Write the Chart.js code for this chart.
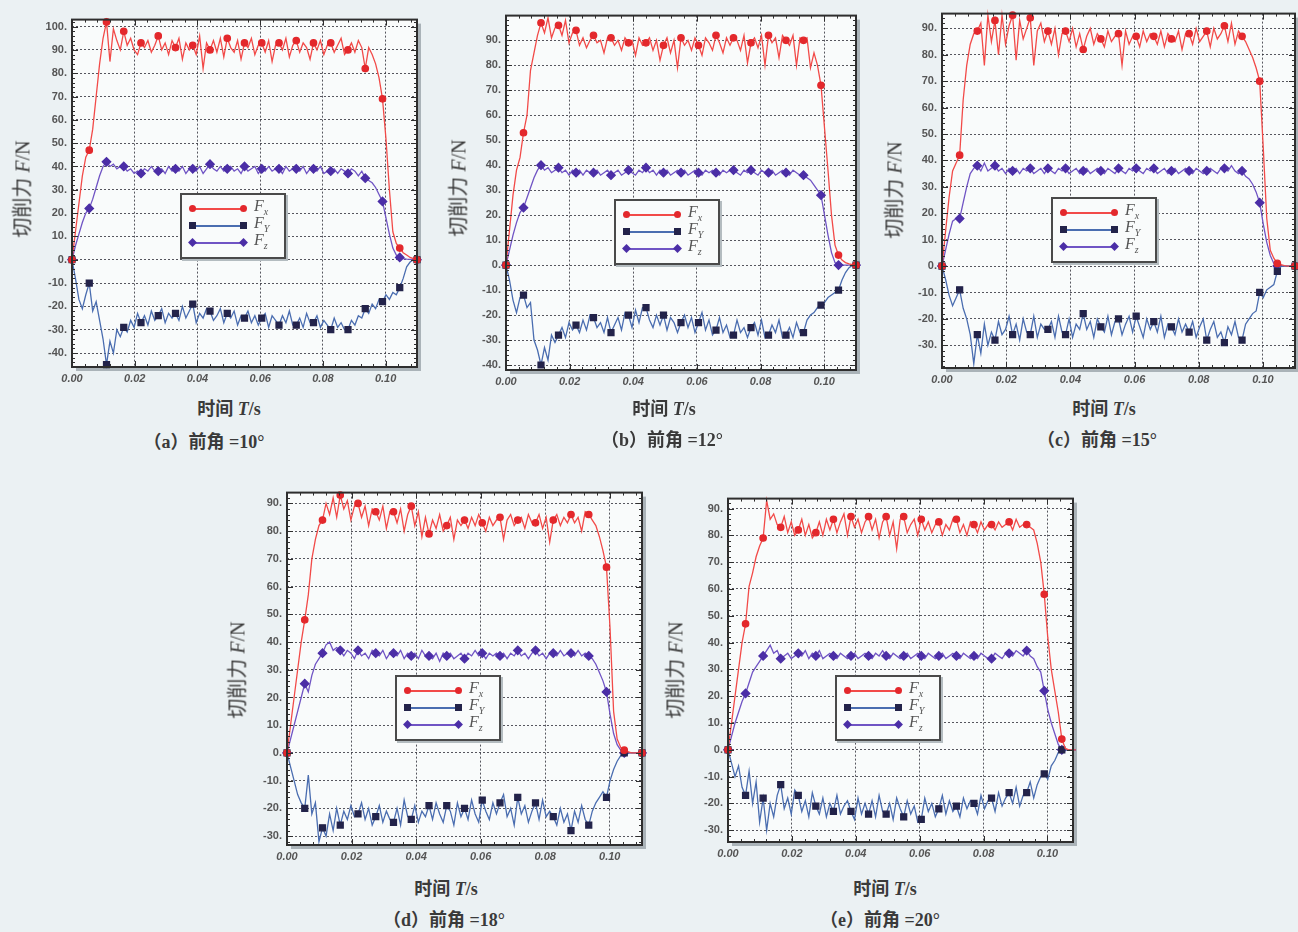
<!DOCTYPE html>
<html>
<head>
<meta charset="utf-8">
<script src="https://cdn.jsdelivr.net/npm/chart.js@4.4.1/dist/chart.umd.min.js"></script>
<style>
  body { margin:0; width:1298px; height:932px; background:#ebf1f3; position:relative; overflow:hidden;
         font-family:"Liberation Serif","Noto Sans CJK SC",serif; color:#3a3a3a; }
  .panel { position:absolute; }
  .txt { position:absolute; font-size:18px; font-weight:bold; white-space:nowrap; transform:translate(-50%,-50%); }
  .ytl { font-size:20px; font-weight:normal; transform:translate(-50%,-50%) rotate(-90deg); }
  .lg { position:absolute; width:102px; height:62px; border:2px solid #4a4a4a; background:#f9fbfb;
        box-shadow:2px 2px 0 #b4bcc0; }
  .row { position:absolute; left:10px; width:90px; height:16px; }
  .ln { position:absolute; left:0; top:7px; width:52px; height:1.5px; }
  .mk { position:absolute; top:4px; width:7px; height:7px; }
  .lab { position:absolute; left:62px; top:-4px; font-style:italic; font-size:16px; color:#555; }
  .lab sub { font-size:10px; }
</style>
</head>
<body>
<script>
// time axis, one sample every 0.0011 s (101 samples)
const timeS = Array.from({length: 101}, (_, i) => +(i * 0.0011).toFixed(4));
const seriesNames = ['Fx', 'FY', 'Fz'];

// (a) rake angle 10
const fxA = [
  0, 12, 24, 36, 44, 47, 56, 70, 84, 95,
  102, 85, 99, 94, 90, 98, 92, 95, 90, 88,
  93, 91, 94, 89, 92, 96, 90, 93, 88, 94,
  91, 95, 86, 93, 90, 92, 88, 96, 82, 93,
  90, 94, 89, 95, 87, 95, 91, 89, 94, 86,
  93, 91, 95, 88, 92, 93, 89, 94, 85, 92,
  93, 90, 95, 87, 92, 94, 89, 93, 91, 86,
  93, 90, 94, 88, 92, 93, 89, 92, 95, 88,
  90, 93, 89, 94, 91, 82, 91, 88, 84, 78,
  69, 52, 30, 12, 7, 5, 3, 2, 1, 0.5,
  0];
const fyA = [
  0, -8, -17, -21, -15, -10, -22, -18, -26, -34,
  -45, -35, -40, -30, -33, -29, -31, -26, -29, -23,
  -27, -24, -28, -22, -26, -24, -21, -27, -23, -25,
  -23, -26, -20, -25, -22, -19, -27, -23, -25, -21,
  -22, -26, -24, -21, -27, -23, -25, -22, -28, -24,
  -25, -22, -27, -24, -28, -25, -23, -29, -24, -26,
  -28, -24, -27, -22, -28, -28, -25, -29, -23, -27,
  -27, -24, -29, -26, -28, -30, -25, -29, -27, -30,
  -30, -26, -28, -24, -25, -21, -23, -19, -21, -17,
  -18, -15, -17, -14, -15, -12, -8, -3, -1, 0,
  0];
const fzA = [
  0, 6, 11, 16, 20, 22, 26, 31, 36, 40,
  42, 40, 41, 39, 40, 40, 38, 39, 37, 38,
  37, 39, 38, 40, 38, 38, 39, 37, 40, 38,
  39, 38, 40, 37, 39, 39, 38, 40, 37, 39,
  41, 39, 38, 40, 38, 39, 40, 38, 39, 37,
  40, 38, 39, 40, 37, 39, 38, 40, 38, 39,
  39, 37, 40, 38, 39, 39, 38, 40, 37, 39,
  39, 38, 40, 37, 38, 38, 39, 37, 39, 38,
  37, 39, 38, 36, 38, 35, 34, 33, 31, 28,
  25, 18, 11, 5, 2, 1, 0.5, 0.3, 0.2, 0.1,
  0];

// (b) rake angle 12
const fxB = [
  0, 14, 28, 38, 43, 53, 60, 78, 85, 92,
  97, 93, 99, 91, 95, 96, 92, 98, 89, 93,
  94, 88, 91, 87, 90, 92, 89, 90, 85, 91,
  91, 88, 90, 86, 91, 89, 90, 84, 91, 88,
  89, 91, 86, 90, 82, 88, 91, 85, 90, 79,
  91, 88, 90, 86, 91, 88, 84, 91, 89, 86,
  92, 89, 85, 91, 88, 91, 90, 86, 92, 81,
  89, 91, 87, 92, 80, 92, 89, 91, 83, 92,
  90, 88, 92, 80, 91, 90, 91, 79, 85, 80,
  72, 55, 38, 20, 8, 4, 2, 1, 0.5, 0.2,
  0];
const fyB = [
  0, -6, -14, -19, -13, -12, -17, -15, -30, -34,
  -40, -33, -38, -28, -31, -28, -25, -29, -23, -26,
  -24, -27, -22, -26, -20, -21, -25, -23, -27, -21,
  -27, -24, -21, -26, -19, -20, -25, -18, -23, -17,
  -17, -22, -25, -20, -24, -20, -26, -21, -23, -27,
  -23, -20, -25, -21, -27, -23, -19, -26, -22, -28,
  -26, -21, -27, -24, -29, -28, -22, -27, -25, -29,
  -25, -23, -28, -22, -29, -28, -24, -27, -22, -29,
  -28, -25, -29, -23, -27, -27, -22, -20, -19, -17,
  -16, -15, -13, -12, -11, -10, -6, -3, -1, 0,
  0];
const fzB = [
  0, 6, 12, 17, 21, 23, 27, 31, 35, 38,
  40, 38, 39, 37, 38, 39, 37, 38, 36, 38,
  37, 38, 36, 38, 37, 37, 38, 36, 37, 38,
  36, 37, 38, 36, 37, 38, 37, 36, 38, 37,
  39, 37, 38, 36, 38, 37, 38, 36, 37, 38,
  37, 38, 36, 37, 38, 37, 36, 38, 37, 38,
  37, 36, 38, 37, 38, 38, 37, 36, 38, 37,
  38, 37, 36, 38, 37, 37, 38, 36, 37, 38,
  37, 36, 38, 37, 36, 36, 35, 34, 32, 30,
  28, 20, 12, 5, 1, 0, 0, 0, 0, 0,
  0];

// (c) rake angle 15
const fxC = [
  0, 13, 26, 36, 39, 42, 63, 76, 84, 88,
  89, 92, 76, 95, 85, 93, 80, 95, 84, 91,
  95, 78, 93, 86, 90, 94, 76, 89, 92, 85,
  89, 84, 90, 80, 88, 89, 85, 90, 83, 88,
  82, 87, 90, 84, 88, 86, 83, 89, 85, 87,
  88, 76, 89, 84, 87, 87, 83, 89, 85, 88,
  87, 84, 89, 83, 88, 86, 85, 89, 82, 88,
  88, 84, 90, 85, 87, 89, 83, 90, 86, 88,
  91, 85, 92, 84, 89, 87, 85, 82, 79, 75,
  70, 45, 18, 6, 3, 1, 0.5, 0.2, 0, 0,
  0];
const fyC = [
  0, -5, -11, -15, -12, -9, -16, -20, -26, -37,
  -26, -33, -22, -30, -25, -28, -21, -26, -24, -19,
  -26, -22, -28, -20, -25, -26, -19, -27, -22, -24,
  -24, -21, -27, -19, -25, -26, -20, -27, -22, -24,
  -18, -24, -21, -27, -20, -23, -25, -19, -26, -21,
  -20, -26, -22, -19, -25, -19, -23, -27, -20, -24,
  -21, -25, -19, -27, -22, -23, -26, -20, -25, -22,
  -25, -21, -27, -23, -20, -28, -24, -21, -27, -25,
  -29, -23, -26, -21, -27, -28, -22, -20, -18, -17,
  -10, -12, -9, -8, -7, -2, 0, 0, 0, 0,
  0];
const fzC = [
  0, 6, 12, 17, 18, 18, 24, 30, 35, 37,
  38, 36, 39, 36, 37, 38, 36, 37, 35, 37,
  36, 37, 35, 37, 36, 37, 35, 36, 37, 35,
  37, 36, 35, 37, 36, 37, 35, 36, 37, 35,
  36, 37, 35, 36, 37, 36, 35, 37, 36, 35,
  37, 36, 35, 37, 36, 37, 36, 35, 37, 36,
  37, 35, 36, 37, 35, 36, 37, 35, 36, 37,
  36, 35, 37, 36, 35, 36, 37, 36, 35, 37,
  37, 36, 38, 36, 35, 36, 34, 33, 31, 28,
  24, 16, 9, 4, 1, 0, 0, 0, 0, 0,
  0];

// (d) rake angle 18
const fxD = [
  0, 10, 20, 30, 40, 48, 57, 70, 77, 82,
  84, 90, 86, 92, 85, 93, 88, 91, 84, 89,
  90, 85, 89, 82, 88, 87, 84, 89, 81, 87,
  87, 83, 88, 80, 86, 89, 82, 87, 78, 85,
  79, 84, 81, 86, 80, 82, 85, 77, 84, 82,
  84, 81, 85, 82, 86, 83, 80, 85, 82, 84,
  85, 77, 84, 86, 82, 84, 85, 81, 86, 83,
  83, 86, 81, 85, 76, 84, 86, 82, 85, 83,
  86, 83, 85, 80, 87, 86, 84, 82, 78, 73,
  67, 45, 15, 5, 2, 1, 0.5, 0, 0, 0,
  0];
const fyD = [
  0, -5, -10, -15, -18, -20, -8, -22, -18, -32,
  -27, -30, -22, -28, -20, -26, -21, -24, -19, -23,
  -22, -18, -24, -20, -26, -23, -19, -25, -21, -24,
  -25, -20, -26, -17, -23, -24, -19, -25, -21, -23,
  -19, -24, -18, -22, -25, -19, -21, -26, -18, -23,
  -20, -24, -17, -22, -25, -17, -21, -24, -18, -22,
  -18, -15, -23, -20, -26, -16, -22, -19, -25, -21,
  -18, -24, -17, -23, -21, -23, -26, -20, -25, -22,
  -28, -21, -25, -19, -24, -26, -21, -18, -16, -14,
  -16, -10, -6, -3, -1, 0, 0, 0, 0, 0,
  0];
const fzD = [
  0, 5, 10, 15, 20, 25, 22, 28, 32, 34,
  36, 39, 40, 37, 38, 37, 35, 37, 36, 34,
  37, 35, 36, 34, 37, 36, 35, 37, 34, 36,
  36, 35, 37, 34, 36, 35, 36, 34, 37, 35,
  35, 34, 36, 33, 36, 35, 36, 34, 35, 36,
  34, 36, 35, 37, 35, 36, 34, 36, 35, 36,
  35, 36, 34, 36, 35, 37, 35, 36, 34, 36,
  37, 35, 36, 34, 36, 36, 35, 37, 35, 36,
  36, 35, 37, 35, 36, 35, 34, 32, 29, 26,
  22, 14, 7, 3, 1, 0, 0, 0, 0, 0,
  0];

// (e) rake angle 20
const fxE = [
  0, 10, 20, 30, 40, 47, 61, 66, 72, 76,
  79, 93, 86, 88, 84, 83, 87, 81, 85, 80,
  82, 86, 80, 84, 79, 81, 85, 80, 86, 82,
  86, 81, 85, 88, 80, 87, 83, 86, 81, 85,
  87, 82, 86, 79, 85, 87, 80, 85, 75, 86,
  87, 81, 84, 86, 80, 86, 82, 85, 81, 84,
  85, 80, 84, 82, 86, 86, 81, 84, 80, 85,
  84, 81, 85, 82, 84, 84, 82, 85, 83, 84,
  85, 82, 86, 83, 84, 84, 83, 82, 77, 70,
  58, 42, 30, 22, 14, 4, 0.5, 0, 0, 0,
  0];
const fyE = [
  0, -5, -10, -6, -14, -17, -8, -20, -12, -27,
  -18, -30, -20, -25, -17, -13, -22, -18, -24, -15,
  -17, -23, -19, -25, -16, -21, -24, -18, -25, -20,
  -23, -17, -24, -21, -19, -23, -26, -18, -24, -20,
  -24, -19, -25, -17, -23, -24, -20, -26, -18, -22,
  -25, -19, -24, -21, -27, -26, -18, -23, -20, -25,
  -22, -17, -24, -19, -23, -21, -25, -18, -22, -19,
  -20, -24, -17, -22, -19, -18, -23, -16, -21, -18,
  -16, -20, -14, -21, -17, -16, -12, -18, -13, -10,
  -9, -11, -6, -4, -1, 0, 0, 0, 0, 0,
  0];
const fzE = [
  0, 5, 10, 14, 18, 21, 25, 29, 31, 33,
  35, 37, 39, 36, 37, 34, 35, 36, 34, 35,
  36, 35, 37, 34, 36, 35, 37, 34, 35, 36,
  35, 34, 36, 35, 34, 35, 36, 34, 35, 36,
  35, 34, 36, 35, 37, 35, 34, 36, 35, 34,
  35, 36, 34, 35, 36, 35, 34, 36, 35, 34,
  35, 36, 34, 35, 36, 35, 34, 36, 35, 34,
  35, 34, 36, 35, 34, 34, 36, 35, 34, 36,
  36, 35, 37, 36, 35, 37, 35, 34, 31, 29,
  22, 15, 10, 6, 2, 0, 0, 0, 0, 0,
  0];

const lineColors = ['#f24a48', '#4a6db0', '#7054c4'];
const markerColors = ['#e3282c', '#23234a', '#4b2ea6'];
const pointStyles = ['circle', 'rect', 'rectRot'];
const markerSizes = [3.2, 4.2, 4.2];

// layout of the five panels (plot box in page pixels)
const panels = [
  {box: [72, 14, 417, 367], yMin: -46, yMax: 103, xMax: 0.11, data: [fxA, fyA, fzA],
   legend: [180, 193], yt: [21, 189], xt: [229, 407], cap: [204, 440], caption: '（a）前角 =10°'},
  {box: [506, 10, 856, 370], yMin: -42, yMax: 99.9, xMax: 0.11, data: [fxB, fyB, fzB],
   legend: [614, 199], yt: [457, 188], xt: [664, 407], cap: [662, 438], caption: '（b）前角 =12°'},
  {box: [942, 8, 1295, 368], yMin: -38.6, yMax: 95.6, xMax: 0.11, data: [fxC, fyC, fzC],
   legend: [1051, 197], yt: [893, 190], xt: [1104, 407], cap: [1097, 438], caption: '（c）前角 =15°'},
  {box: [287, 487, 642, 845], yMin: -33.2, yMax: 93.9, xMax: 0.11, data: [fxD, fyD, fzD],
   legend: [395, 675], yt: [236, 670], xt: [446, 887], cap: [444, 918], caption: '（d）前角 =18°'},
  {box: [728, 493, 1073, 842], yMin: -34.4, yMax: 93.7, xMax: 0.108, data: [fxE, fyE, fzE],
   legend: [835, 675], yt: [674, 670], xt: [885, 887], cap: [880, 918], caption: '（e）前角 =20°'}
];

const tickFont = {family: '"Liberation Sans", Arial, sans-serif', size: 11, weight: 'bold'};

const framePlugin = {
  id: 'frame',
  beforeDraw(chart) {
    const {ctx, chartArea: a} = chart;
    ctx.save();
    ctx.fillStyle = '#aab3b8';
    ctx.fillRect(a.left + 4, a.top + 4, a.width, a.height);
    ctx.fillStyle = '#f9fbfb';
    ctx.fillRect(a.left, a.top, a.width, a.height);
    ctx.restore();
  },
  afterDraw(chart) {
    const {ctx, chartArea: a, scales: {x, y}} = chart;
    ctx.save();
    ctx.strokeStyle = '#2e2e2e';
    ctx.lineWidth = 1;
    ctx.beginPath();
    // minor / major ticks pointing inwards
    for (let v = Math.ceil(y.min / 2) * 2; v <= y.max; v += 2) {
      const p = Math.round(y.getPixelForValue(v)) + 0.5;
      const len = v % 10 === 0 ? 6 : 3;
      ctx.moveTo(a.left, p); ctx.lineTo(a.left + len, p);
      ctx.moveTo(a.right, p); ctx.lineTo(a.right - len, p);
    }
    for (let k = 1; k * 0.004 < x.max; k++) {
      const p = Math.round(x.getPixelForValue(k * 0.004)) + 0.5;
      const len = k % 5 === 0 ? 6 : 3;
      ctx.moveTo(p, a.bottom); ctx.lineTo(p, a.bottom - len);
      ctx.moveTo(p, a.top); ctx.lineTo(p, a.top + len);
    }
    ctx.stroke();
    ctx.lineWidth = 2;
    ctx.strokeRect(a.left, a.top, a.width, a.height);
    ctx.restore();
  }
};

function addText(html, pos, cls) {
  const d = document.createElement('div');
  d.className = 'txt' + (cls ? ' ' + cls : '');
  d.innerHTML = html;
  d.style.left = pos[0] + 'px';
  d.style.top = pos[1] + 'px';
  document.body.appendChild(d);
}

function addLegend(chart, pos) {
  const box = document.createElement('div');
  box.className = 'lg';
  box.style.left = pos[0] + 'px';
  box.style.top = pos[1] + 'px';
  chart.data.datasets.forEach((ds, k) => {
    const row = document.createElement('div');
    row.className = 'row';
    row.style.top = (6 + k * 17) + 'px';
    const shape = ds.pointStyle === 'circle' ? 'border-radius:50%;'
      : ds.pointStyle === 'rectRot' ? 'transform:rotate(45deg) scale(0.9);' : '';
    const mk = l => `<span class="mk" style="left:${l}px;background:${ds.pointBackgroundColor};${shape}"></span>`;
    row.innerHTML = `<span class="ln" style="background:${ds.borderColor}"></span>` + mk(-3) + mk(48) +
      `<span class="lab">F<sub>${ds.label.slice(1)}</sub></span>`;
    box.appendChild(row);
  });
  document.body.appendChild(box);
}

function makePanel(p) {
  const [L, T, R, B] = p.box;
  const cl = L - 40, ct = T - 6;
  const wrap = document.createElement('div');
  wrap.className = 'panel';
  wrap.style.left = cl + 'px';
  wrap.style.top = ct + 'px';
  const cv = document.createElement('canvas');
  cv.width = R - cl + 8;
  cv.height = B - ct + 26;
  wrap.appendChild(cv);
  document.body.appendChild(wrap);

  const datasets = p.data.map((arr, k) => ({
    label: seriesNames[k],
    data: timeS.map((tv, i) => ({x: tv, y: arr[i]})),
    borderColor: lineColors[k],
    backgroundColor: markerColors[k],
    pointBackgroundColor: markerColors[k],
    pointBorderColor: markerColors[k],
    pointStyle: pointStyles[k],
    pointRadius: c => (c.dataIndex % 5 === 0 ? markerSizes[k] : 0),
    borderWidth: 1.3,
    tension: 0,
    clip: 5
  }));

  const chart = new Chart(cv, {
    type: 'line',
    data: {datasets},
    options: {
      responsive: false,
      animation: false,
      layout: {padding: {left: 0, top: 6, right: 8, bottom: 2}},
      plugins: {legend: {display: false}, tooltip: {enabled: false}},
      scales: {
        x: {
          type: 'linear', min: 0, max: p.xMax,
          afterFit: s => { s.height = 24; },
          ticks: {stepSize: 0.02, includeBounds: false, autoSkip: false, maxRotation: 0, padding: 5,
                  color: '#555', font: {...tickFont, style: 'italic'}, callback: v => v.toFixed(2)},
          grid: {color: 'rgba(45,45,55,0.8)', lineWidth: 1, drawTicks: false},
          border: {display: false, dash: [2, 2]}
        },
        y: {
          type: 'linear', min: p.yMin, max: p.yMax,
          afterFit: s => { s.width = 40; },
          ticks: {stepSize: 10, includeBounds: false, padding: 5, color: '#555', font: tickFont,
                  callback: v => v + '.'},
          grid: {color: 'rgba(45,45,55,0.8)', lineWidth: 1, drawTicks: false},
          border: {display: false, dash: [2, 2]}
        }
      }
    },
    plugins: [framePlugin]
  });

  addLegend(chart, p.legend);
  addText('切削力 <i>F</i>/N', p.yt, 'ytl');
  addText('时间 <i>T</i>/s', p.xt);
  addText(p.caption, p.cap);
}

panels.forEach(makePanel);
</script>
</body>
</html>
